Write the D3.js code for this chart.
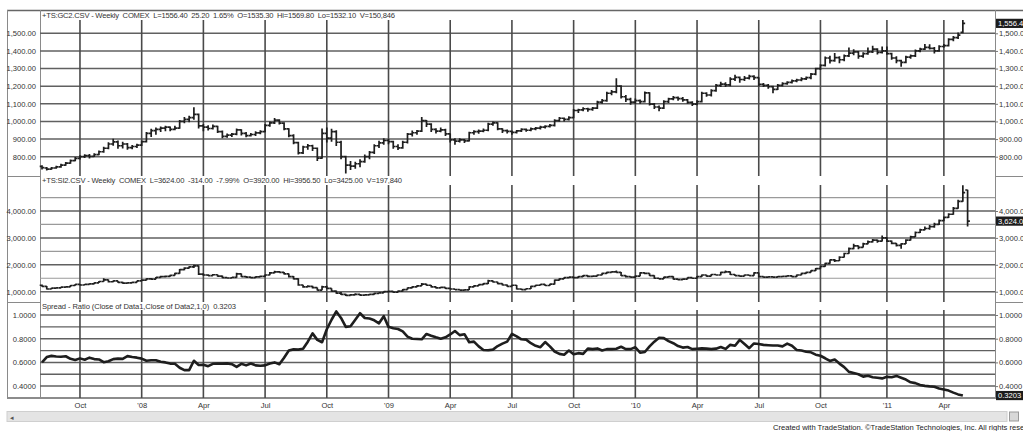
<!DOCTYPE html>
<html><head><meta charset="utf-8">
<script src="https://d3js.org/d3.v7.min.js"></script>
<style>
body{margin:0;background:#fff;overflow:hidden}
svg{display:block}
text{font-family:"Liberation Sans",Arial,sans-serif;white-space:pre}
</style></head>
<body><svg id="c" width="1023" height="431"></svg>
<script>
// ---------- DATA ----------
const startDate = new Date(2007, 7, 10); // first weekly bar
const goldHeader = "+TS:GC2.CSV - Weekly  COMEX  L=1556.40  25.20  1.65%  O=1535.30  Hi=1569.80  Lo=1532.10  V=150,846";
const silverHeader = "+TS:SI2.CSV - Weekly  COMEX  L=3624.00  -314.00  -7.99%  O=3920.00  Hi=3956.50  Lo=3425.00  V=197,840";
const spreadHeader = "Spread - Ratio (Close of Data1,Close of Data2,1,0)  0.3203";
const footerText = "Created with TradeStation. \u00A9TradeStation Technologies, Inc. All rights reserved";

const goldTicks = [800, 900, 1000, 1100, 1200, 1300, 1400, 1500];
const silverTicks = [1000, 2000, 3000, 4000];
const silverMinor = [1500, 2500, 3500, 4500];
const ratioTicks = [0.4, 0.6, 0.8, 1.0];
const ratioMinor = [0.5, 0.7, 0.9];

const gcOpen = [745,736,730,736,742,752,764,778,790,800,
806,802,812,828,848,872,884,862,872,852,
858,866,885,932,948,955,962,968,955,962,
1000,1012,1022,1040,975,968,960,972,942,915,
922,928,952,932,920,926,935,942,978,992,
1008,990,958,920,880,822,855,862,848,792,
932,905,942,882,800,752,746,760,772,800,
825,862,878,892,886,858,850,882,928,936,
945,1005,985,955,945,952,930,895,888,896,
890,936,942,945,950,985,992,958,948,944,
938,946,955,950,958,962,968,972,978,1005,
1018,1012,1022,1062,1066,1072,1068,1075,1110,1118,
1160,1168,1200,1140,1125,1110,1118,1112,1162,1098,
1082,1075,1112,1128,1135,1130,1122,1108,1098,1112,
1160,1150,1175,1205,1212,1208,1240,1250,1238,1246,
1256,1248,1210,1205,1198,1182,1205,1215,1222,1230,
1235,1242,1248,1268,1300,1318,1360,1345,1362,1350,
1372,1388,1395,1370,1385,1395,1410,1392,1400,1385,
1360,1345,1335,1365,1372,1400,1410,1420,1415,1400,
1425,1430,1465,1475,1505];
const gcHigh = [752,742,742,748,760,770,784,798,808,814,
815,820,835,856,882,902,892,885,878,866,
874,892,940,958,965,972,975,972,975,1008,
1025,1032,1080,1045,985,978,982,976,948,932,
935,960,956,940,935,945,950,985,1000,1020,
1012,995,962,928,885,862,872,868,852,960,
965,958,950,890,805,775,772,785,812,832,
870,890,905,900,890,870,890,935,948,952,
1025,1008,990,962,965,958,932,905,905,900,
942,950,955,960,992,1000,995,962,955,948,
952,962,960,965,968,975,978,985,1012,1025,
1022,1030,1070,1072,1080,1078,1082,1118,1128,1168,
1178,1245,1205,1150,1135,1130,1125,1170,1165,1105,
1090,1120,1135,1145,1142,1138,1128,1115,1120,1168,
1165,1182,1212,1225,1222,1250,1265,1255,1258,1265,
1262,1250,1218,1212,1202,1212,1222,1228,1238,1242,
1250,1255,1275,1305,1325,1368,1372,1388,1370,1380,
1420,1410,1400,1392,1420,1430,1415,1425,1425,1390,
1370,1350,1372,1380,1408,1418,1440,1438,1422,1432,
1440,1472,1485,1505,1575];
const gcLow = [728,722,726,732,738,748,760,774,784,792,
790,798,808,822,842,862,845,846,840,842,
850,860,880,912,925,940,945,945,950,958,
990,995,1010,960,945,948,955,935,905,908,
912,922,920,910,915,918,928,938,970,985,
982,950,910,870,812,815,840,832,775,788,
880,885,860,785,705,725,732,740,765,785,
815,850,868,870,845,838,845,875,915,925,
940,968,940,932,938,918,880,868,880,878,
886,925,930,938,945,975,950,935,932,925,
932,940,942,945,950,955,960,965,972,998,
1000,1005,1018,1048,1058,1055,1060,1070,1100,1112,
1148,1160,1130,1110,1095,1100,1100,1108,1090,1070,
1058,1070,1105,1120,1118,1112,1100,1088,1092,1108,
1140,1142,1168,1195,1195,1200,1230,1220,1230,1238,
1235,1200,1195,1185,1160,1178,1198,1208,1215,1222,
1228,1235,1240,1262,1292,1312,1328,1338,1330,1342,
1365,1375,1355,1362,1378,1388,1380,1385,1378,1350,
1330,1310,1330,1355,1365,1392,1405,1408,1385,1395,
1418,1425,1455,1468,1500];
const gcClose = [738,730,736,742,752,764,778,790,800,806,
802,812,828,848,872,884,862,872,852,858,
866,885,932,948,955,962,968,955,962,1000,
1012,1022,1040,975,968,960,972,942,915,922,
928,952,932,920,926,935,942,978,992,1008,
990,958,920,880,822,855,862,848,792,932,
905,942,882,800,752,746,760,772,800,825,
862,878,892,886,858,850,882,928,936,945,
1005,985,955,945,952,930,895,888,896,890,
936,942,945,950,985,992,958,948,944,938,
946,955,950,958,962,968,972,978,1005,1018,
1012,1022,1062,1066,1072,1068,1075,1110,1118,1160,
1168,1200,1140,1125,1110,1118,1112,1162,1098,1082,
1075,1112,1128,1135,1130,1122,1108,1098,1112,1160,
1150,1175,1205,1212,1208,1240,1250,1238,1246,1256,
1248,1210,1205,1198,1182,1205,1215,1222,1230,1235,
1242,1248,1268,1300,1318,1360,1345,1362,1350,1372,
1388,1395,1370,1385,1395,1410,1392,1400,1385,1360,
1345,1335,1365,1372,1400,1410,1420,1415,1400,1425,
1430,1465,1475,1490,1556.4];

const siOpen = [1240,1200,1100,1130,1140,1170,1180,1230,1270,1250,
1270,1290,1330,1380,1440,1370,1400,1350,1320,1330,
1350,1400,1430,1480,1470,1530,1560,1570,1610,1680,
1820,1880,1920,1960,1650,1620,1600,1630,1580,1520,
1510,1530,1660,1560,1540,1520,1550,1570,1620,1700,
1740,1720,1660,1560,1480,1250,1180,1200,1150,1060,
1180,1120,1020,950,900,860,880,900,870,880,
900,940,960,1000,1010,980,1020,1080,1140,1180,
1220,1280,1240,1180,1140,1160,1120,1100,1080,1060,
1070,1180,1220,1260,1300,1400,1360,1300,1250,1200,
1240,1100,1080,1110,1200,1240,1270,1230,1280,1430,
1480,1520,1540,1520,1560,1600,1570,1580,1620,1680,
1720,1740,1720,1600,1560,1540,1580,1700,1680,1600,
1500,1480,1540,1560,1470,1450,1470,1520,1500,1560,
1620,1580,1640,1620,1720,1740,1640,1600,1580,1620,
1600,1700,1560,1540,1550,1540,1560,1570,1590,1560,
1620,1680,1720,1780,1860,1940,2050,2180,2150,2280,
2420,2600,2700,2650,2780,2850,2920,2880,3000,2880,
2800,2720,2780,2920,3040,3200,3300,3350,3420,3500,
3640,3760,3880,4100,4360,4780];
const siHigh = [1265,1210,1145,1160,1185,1200,1245,1290,1290,1290,
1310,1345,1400,1500,1450,1420,1410,1370,1350,1370,
1410,1450,1500,1510,1550,1590,1600,1630,1700,1840,
1910,1950,2000,1975,1680,1650,1660,1640,1600,1540,
1550,1700,1680,1580,1550,1570,1600,1640,1730,1780,
1770,1730,1680,1580,1500,1260,1240,1220,1160,1220,
1220,1130,1040,990,920,910,940,910,900,920,
960,980,1020,1030,1020,1040,1100,1160,1200,1240,
1320,1300,1250,1190,1180,1170,1140,1110,1090,1090,
1200,1240,1280,1320,1440,1420,1370,1310,1270,1260,
1250,1120,1130,1220,1260,1290,1280,1300,1450,1500,
1540,1560,1550,1580,1620,1610,1600,1640,1700,1740,
1760,1790,1730,1610,1570,1600,1720,1710,1690,1610,
1510,1560,1580,1570,1480,1490,1540,1530,1580,1640,
1630,1660,1650,1740,1790,1750,1650,1610,1640,1630,
1720,1710,1570,1570,1560,1580,1590,1610,1600,1640,
1700,1740,1800,1880,1960,2080,2200,2220,2320,2450,
2640,2780,2720,2820,2900,2960,2940,3090,3020,2900,
2810,2800,2950,3080,3240,3340,3420,3480,3560,3680,
3800,3920,4150,4420,4960,4790];
const siLow = [1180,1080,1090,1120,1130,1160,1175,1220,1235,1240,
1260,1280,1320,1370,1340,1350,1330,1300,1310,1320,
1340,1390,1420,1440,1460,1520,1530,1560,1600,1670,
1800,1860,1880,1620,1590,1580,1590,1560,1500,1490,
1500,1520,1550,1520,1500,1510,1540,1560,1610,1690,
1700,1640,1530,1450,1220,1150,1170,1120,1040,1050,
1090,1000,920,880,840,850,870,850,860,870,
890,930,950,990,960,970,1010,1070,1130,1170,
1210,1220,1160,1120,1130,1100,1080,1060,1040,1050,
1060,1170,1210,1250,1290,1340,1280,1230,1180,1190,
1080,1060,1070,1100,1190,1230,1210,1220,1270,1420,
1470,1500,1490,1510,1550,1540,1560,1570,1610,1670,
1700,1700,1580,1530,1520,1530,1570,1650,1580,1480,
1460,1470,1530,1450,1430,1440,1460,1480,1490,1550,
1560,1570,1600,1610,1700,1620,1580,1560,1570,1580,
1590,1540,1520,1530,1520,1530,1550,1560,1540,1550,
1610,1670,1710,1770,1850,1930,2040,2100,2140,2270,
2410,2580,2580,2640,2760,2830,2820,2870,2850,2760,
2680,2600,2770,2900,3030,3180,3280,3300,3380,3480,
3620,3740,3860,4080,4340,3425];
const siClose = [1200,1100,1130,1140,1170,1180,1230,1270,1250,1270,
1290,1330,1380,1440,1370,1400,1350,1320,1330,1350,
1400,1430,1480,1470,1530,1560,1570,1610,1680,1820,
1880,1920,1960,1650,1620,1600,1630,1580,1520,1510,
1530,1660,1560,1540,1520,1550,1570,1620,1700,1740,
1720,1660,1560,1480,1250,1180,1200,1150,1060,1180,
1120,1020,950,900,860,880,900,870,880,900,
940,960,1000,1010,980,1020,1080,1140,1180,1220,
1280,1240,1180,1140,1160,1120,1100,1080,1060,1070,
1180,1220,1260,1300,1400,1360,1300,1250,1200,1240,
1100,1080,1110,1200,1240,1270,1230,1280,1430,1480,
1520,1540,1520,1560,1600,1570,1580,1620,1680,1720,
1740,1720,1600,1560,1540,1580,1700,1680,1600,1500,
1480,1540,1560,1470,1450,1470,1520,1500,1560,1620,
1580,1640,1620,1720,1740,1640,1600,1580,1620,1600,
1700,1560,1540,1550,1540,1560,1570,1590,1560,1620,
1680,1720,1780,1860,1940,2050,2180,2150,2280,2420,
2600,2700,2650,2780,2850,2920,2880,3000,2880,2800,
2720,2780,2920,3040,3200,3300,3350,3420,3500,3640,
3760,3880,4100,4360,4680,3624];

const ratio = [0.600,0.645,0.655,0.650,0.648,0.652,0.630,0.620,0.634,0.622,
0.640,0.628,0.625,0.602,0.610,0.628,0.632,0.630,0.653,0.645,
0.640,0.632,0.614,0.618,0.618,0.605,0.600,0.590,0.588,0.555,
0.535,0.535,0.614,0.578,0.580,0.568,0.588,0.590,0.590,0.592,
0.585,0.562,0.588,0.575,0.590,0.575,0.572,0.575,0.590,0.600,
0.585,0.640,0.700,0.710,0.708,0.715,0.775,0.845,0.790,0.770,
0.880,0.960,1.030,0.975,0.900,0.905,0.960,1.015,0.975,0.970,
0.955,0.930,0.990,0.900,0.888,0.882,0.862,0.818,0.800,0.798,
0.795,0.840,0.825,0.812,0.800,0.812,0.836,0.865,0.830,0.838,
0.770,0.775,0.735,0.705,0.702,0.708,0.738,0.758,0.775,0.840,
0.820,0.795,0.792,0.762,0.740,0.728,0.772,0.735,0.692,0.672,
0.665,0.700,0.668,0.678,0.672,0.716,0.712,0.718,0.700,0.712,
0.712,0.715,0.732,0.712,0.712,0.728,0.682,0.688,0.735,0.775,
0.808,0.805,0.780,0.762,0.738,0.725,0.730,0.712,0.715,0.718,
0.716,0.712,0.716,0.730,0.714,0.748,0.740,0.790,0.755,0.720,
0.760,0.755,0.748,0.745,0.742,0.742,0.735,0.758,0.740,0.705,
0.700,0.690,0.685,0.665,0.656,0.635,0.612,0.625,0.590,0.560,
0.520,0.510,0.500,0.480,0.487,0.475,0.470,0.465,0.478,0.475,
0.486,0.470,0.455,0.432,0.425,0.410,0.402,0.398,0.395,0.380,
0.372,0.362,0.345,0.330,0.3203];

// ---------- LAYOUT ----------
const svg = d3.select("#c");
const W = 1023;
const frameL = 7, plotL = 40, plotR = 995, frameTop = 10, frameBottom = 398;
const goldP = {gridTop: 20, bottom: 176};
const silverP = {gridTop: 185, bottom: 302};
const spreadP = {gridTop: 310, bottom: 398};
const ink = "#1e1e1e", gridDark = "#606060", gridLight = "#9a9a9a", txt = "#333";
const FS = 7.6;

const n = siClose.length;
const dates = d3.range(n).map(i => d3.timeDay.offset(startDate, 7 * i));
const x = d3.scalePoint().domain(d3.range(n)).range([42, 967.6]);
const yG = d3.scaleLinear().domain([800, 1500]).range([156.7, 33.3]);
const yS = d3.scaleLinear().domain([1000, 4000]).range([291.7, 211.0]);
const yR = d3.scaleLinear().domain([0.4, 1.0]).range([386.1, 315.0]);

const qIdx = d3.range(1, n).filter(i => dates[i].getMonth() !== dates[i - 1].getMonth() && dates[i].getMonth() % 3 === 0);
const qLabel = i => dates[i].getMonth() === 0 ? "'" + d3.timeFormat("%y")(dates[i]) : d3.timeFormat("%b")(dates[i]);

// frame lines
const frame = svg.append("g").attr("stroke", "#8a8a8a").attr("stroke-width", 1).attr("fill", "none");
frame.append("line").attr("x1", frameL).attr("x2", W).attr("y1", frameTop + 0.5).attr("y2", frameTop + 0.5).attr("stroke", "#666").attr("stroke-width", 1.4);
frame.append("line").attr("x1", frameL).attr("x2", W).attr("y1", frameBottom).attr("y2", frameBottom).attr("stroke", "#666").attr("stroke-width", 1.4);
frame.append("line").attr("x1", frameL + 0.5).attr("x2", frameL + 0.5).attr("y1", frameTop).attr("y2", frameBottom);
frame.append("line").attr("x1", plotL + 0.5).attr("x2", plotL + 0.5).attr("y1", frameTop).attr("y2", frameBottom);
frame.append("line").attr("x1", plotR + 0.5).attr("x2", plotR + 0.5).attr("y1", frameTop).attr("y2", frameBottom);
[goldP.bottom, silverP.bottom].forEach(yy => {
  frame.append("line").attr("x1", frameL).attr("x2", plotL).attr("y1", yy + 0.5).attr("y2", yy + 0.5);
  frame.append("line").attr("x1", plotR).attr("x2", W).attr("y1", yy + 0.5).attr("y2", yy + 0.5);
});

// horizontal grid
function hgrid(vals, scale, color, width) {
  svg.append("g").selectAll("line").data(vals).join("line")
    .attr("x1", plotL).attr("x2", plotR)
    .attr("y1", d => scale(d)).attr("y2", d => scale(d))
    .attr("stroke", color).attr("stroke-width", width);
}
hgrid(goldTicks, yG, gridDark, 1.5);
hgrid(silverMinor, yS, gridLight, 1.2);
hgrid(silverTicks, yS, gridDark, 1.5);
hgrid(ratioMinor, yR, gridDark, 1.3);
hgrid(ratioTicks, yR, gridDark, 1.5);

// vertical grid
[goldP, silverP, spreadP].forEach(p => {
  svg.append("g").selectAll("line").data(qIdx).join("line")
    .attr("x1", d => x(d)).attr("x2", d => x(d))
    .attr("y1", p.gridTop).attr("y2", p.bottom)
    .attr("stroke", "#4a4a4a").attr("stroke-width", 1.6);
});

// OHLC bars
function bars(O, Hh, L, C, y) {
  const g = svg.append("g").attr("stroke", ink).attr("stroke-width", 1.7).attr("fill", "none");
  g.selectAll("path").data(d3.range(C.length)).join("path")
    .attr("d", i => {
      const xi = x(i);
      return `M${xi},${y(Hh[i])}V${y(L[i])}M${xi - 2.3},${y(O[i])}H${xi}M${xi},${y(C[i])}H${xi + 2.3}`;
    });
}
bars(gcOpen, gcHigh, gcLow, gcClose, yG);
bars(siOpen, siHigh, siLow, siClose, yS);

// ratio line
svg.append("path").datum(ratio)
  .attr("fill", "none").attr("stroke", ink).attr("stroke-width", 2.6).attr("stroke-linejoin", "round")
  .attr("d", d3.line().x((d, i) => x(i)).y(d => yR(d)));

// axes
function styleAxis(g) {
  g.select(".domain").remove();
  g.selectAll("text").attr("font-size", FS).attr("fill", txt).attr("font-family", '"Liberation Sans",Arial,sans-serif');
  g.selectAll(".tick line").attr("stroke", "#777");
}
const f2 = d3.format(",.2f"), f4 = d3.format(".4f");
[[yG, goldTicks, f2], [yS, silverTicks, f2], [yR, ratioTicks, f4]].forEach(([sc, tv, fm]) => {
  svg.append("g").attr("transform", `translate(${plotL},0)`)
    .call(d3.axisLeft(sc).tickValues(tv).tickFormat(fm).tickSize(0).tickPadding(4)).call(styleAxis);
  svg.append("g").attr("transform", `translate(${plotR},0)`)
    .call(d3.axisRight(sc).tickValues(tv).tickFormat(fm).tickSize(3).tickPadding(1)).call(styleAxis);
});
svg.append("g").attr("transform", `translate(0,${frameBottom})`)
  .call(d3.axisBottom(x).tickValues(qIdx).tickFormat(qLabel).tickSize(0).tickPadding(5)).call(styleAxis);

// last-value badges
function badge(yv, label) {
  svg.append("rect").attr("x", plotR + 1).attr("y", yv - 4.6).attr("width", W - plotR).attr("height", 9.2).attr("fill", "#1c1c1c");
  svg.append("text").attr("x", plotR + 3).attr("y", yv + 2.8).attr("font-size", FS).attr("fill", "#fff").text(label);
}
badge(yG(gcClose[gcClose.length - 1]), f2(gcClose[gcClose.length - 1]));
badge(yS(siClose[n - 1]), f2(siClose[n - 1]));
badge(yR(ratio[ratio.length - 1]), f4(ratio[ratio.length - 1]));

// headers
function header(yb, s, len) {
  svg.append("text").attr("x", 42).attr("y", yb).attr("font-size", FS).attr("fill", txt)
    .attr("textLength", len).attr("lengthAdjust", "spacing").text(s);
}
header(18, goldHeader, 353);
header(183, silverHeader, 360);
header(309, spreadHeader, 194);

// scrollbar
svg.append("rect").attr("x", frameL).attr("y", 411.5).attr("width", 1000).attr("height", 10).attr("fill", "#e4e4e4").attr("stroke", "#cfcfcf");
svg.append("text").attr("x", 10).attr("y", 419.5).attr("font-size", 7).attr("fill", "#555").text("\u25C2");
svg.append("rect").attr("x", 1009.5).attr("y", 412).attr("width", 9).attr("height", 9).attr("fill", "#d8d8d8").attr("stroke", "#999");

// footer
svg.append("text").attr("x", 773).attr("y", 430).attr("font-size", FS).attr("fill", "#222").text(footerText);
</script>
</body></html>
